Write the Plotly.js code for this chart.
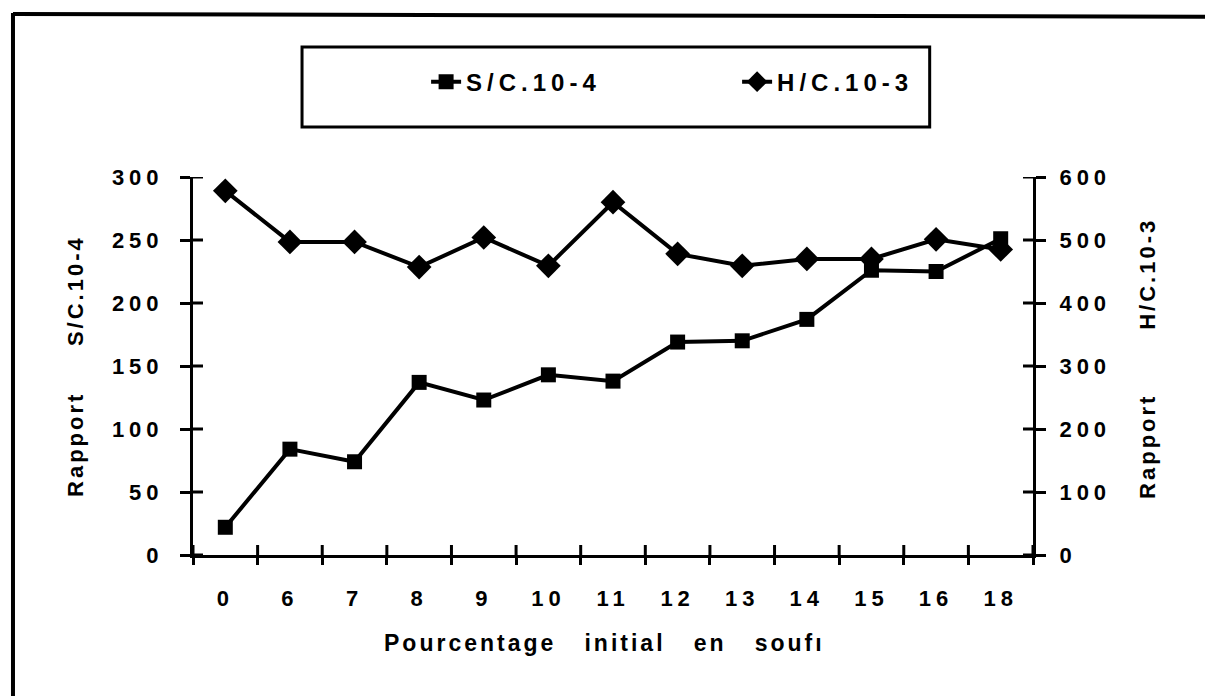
<!DOCTYPE html>
<html>
<head>
<meta charset="utf-8">
<script src="https://cdn.plot.ly/plotly-3.0.1.min.js"></script>
<style>
  html, body { margin: 0; padding: 0; background: #fff; }
  #chart { width: 1205px; height: 696px; }
  .xtick text, .ytick text, .y2tick text { letter-spacing: 5px; }
  .xtick text { translate: 0px 22px; }
  .ytick text { translate: -12px 0px; }
  .y2tick text { translate: 9px 0px; }
  .legendtext { letter-spacing: 5px; }
  .annotation-text { letter-spacing: 3px; }
</style>
</head>
<body>
<div id="chart"></div>
<script>
// ---- data ----
const categories = ["0", "6", "7", "8", "9", "10", "11", "12", "13", "14", "15", "16", "18"];
const seriesSC = [22, 84, 74, 137, 123, 143, 138, 169, 170, 187, 226, 225, 251];   // S/C.10-4 (left axis)
const seriesHC = [578, 497, 497, 457, 504, 459, 560, 478, 459, 470, 470, 501, 485]; // H/C.10-3 (right axis)
const leftTicks = [0, 50, 100, 150, 200, 250, 300];
const rightTicks = [0, 100, 200, 300, 400, 500, 600];
const nameSC = "S/C.10-4";
const nameHC = "H/C.10-3";
const NB = "\u00a0";
const leftTitle = "Rapport" + NB.repeat(5) + "S/C.10-4";
const rightTitle = "Rapport" + NB.repeat(7) + "H/C.10-3";
const xTitle = "Pourcentage" + NB.repeat(3) + "initial" + NB.repeat(3) + "en" + NB.repeat(3) + "souf\u0131";

const FONT = "Liberation Sans, Arial, Helvetica, sans-serif";
const tickFont = {family: FONT, size: 22, color: "#000", weight: "bold"};

// plot area size in px (from the margins) to turn inner tick lengths into paper units
const W = 1205, H = 696, ML = 193, MR = 172, MT = 177, MB = 141;
const plotW = W - ML - MR, plotH = H - MT - MB;
const innerY = 10 / plotW;   // inner half of y ticks
const innerX = 10 / plotH;   // inner half of x ticks
const tickLine = {color: "#000", width: 3};

// inner halves of the ticks, placed through the axes' own scales
const innerTickShapes = [];
leftTicks.forEach(v => innerTickShapes.push({type: "line", xref: "paper", yref: "y",
  x0: 0, x1: innerY, y0: v, y1: v, line: tickLine}));
rightTicks.forEach(v => innerTickShapes.push({type: "line", xref: "paper", yref: "y2",
  x0: 1 - innerY, x1: 1, y0: v, y1: v, line: tickLine}));
for (let i = 0; i <= categories.length; i++) {
  innerTickShapes.push({type: "line", xref: "x", yref: "paper",
    x0: i - 0.5, x1: i - 0.5, y0: 0, y1: innerX, line: tickLine});
}

const traces = [
  {
    x: categories, y: seriesSC, name: nameSC, type: "scatter", mode: "lines+markers",
    xaxis: "x", yaxis: "y",
    line: {color: "#000", width: 4},
    marker: {symbol: "square", size: 15, color: "#000"}
  },
  {
    x: categories, y: seriesHC, name: nameHC, type: "scatter", mode: "lines+markers",
    xaxis: "x", yaxis: "y2",
    line: {color: "#000", width: 4},
    marker: {symbol: "diamond", size: 19, color: "#000"}
  }
];

const layout = {
  width: W, height: H,
  margin: {l: ML, r: MR, t: MT, b: MB},
  paper_bgcolor: "#fff", plot_bgcolor: "#fff",
  showlegend: true,
  legend: {
    orientation: "h", x: 0.2775, xanchor: "left", y: 1.251, yanchor: "middle",
    font: {family: FONT, size: 24, color: "#000", weight: "bold"},
    bgcolor: "rgba(0,0,0,0)", borderwidth: 0, entrywidth: 266, itemwidth: 30
  },
  xaxis: {
    type: "category", range: [-0.5, categories.length - 0.5], tickson: "boundaries",
    ticks: "outside", ticklen: 7, tickwidth: 3, tickcolor: "#000",
    showline: true, linewidth: 3, linecolor: "#000",
    showgrid: false, tickfont: tickFont
  },
  yaxis: {
    range: [0, 300], tickmode: "array", tickvals: leftTicks,
    ticks: "outside", ticklen: 10, tickwidth: 3, tickcolor: "#000",
    showline: true, linewidth: 3, linecolor: "#000",
    showgrid: false, zeroline: false, tickfont: tickFont
  },
  yaxis2: {
    overlaying: "y", side: "right", anchor: "x",
    range: [0, 600], tickmode: "array", tickvals: rightTicks,
    ticks: "outside", ticklen: 10, tickwidth: 3, tickcolor: "#000",
    showline: true, linewidth: 3, linecolor: "#000",
    showgrid: false, zeroline: false, tickfont: tickFont
  },
  annotations: [
    {text: leftTitle, textangle: -90, xref: "paper", yref: "paper", x: -0.1405, y: 0.5,
     xanchor: "center", yanchor: "middle", showarrow: false,
     font: {family: FONT, size: 22, color: "#000", weight: "bold"}},
    {text: rightTitle, textangle: -90, xref: "paper", yref: "paper", x: 1.137, y: 0.519,
     xanchor: "center", yanchor: "middle", showarrow: false,
     font: {family: FONT, size: 22, color: "#000", weight: "bold"}},
    {text: xTitle, xref: "paper", yref: "paper", x: 0.49, y: -0.233,
     xanchor: "center", yanchor: "middle", showarrow: false,
     font: {family: FONT, size: 23, color: "#000", weight: "bold"}}
  ],
  shapes: [
    // legend box
    {type: "rect", xref: "paper", yref: "paper", x0: 0.1298, x1: 0.877, y0: 1.132, y1: 1.344,
     line: {color: "#000", width: 3}, fillcolor: "rgba(0,0,0,0)"},
    // outer frame (left and top edges)
    {type: "line", xref: "paper", yref: "paper", x0: -0.2143, x1: -0.2143, y0: 1.434, y1: -0.38,
     line: {color: "#000", width: 4}},
    {type: "line", xref: "paper", yref: "paper", x0: -0.2143, x1: 1.21, y0: 1.431, y1: 1.424,
     line: {color: "#000", width: 4}}
  ].concat(innerTickShapes)
};

Plotly.newPlot("chart", traces, layout, {displayModeBar: false, staticPlot: true});
</script>
</body>
</html>
